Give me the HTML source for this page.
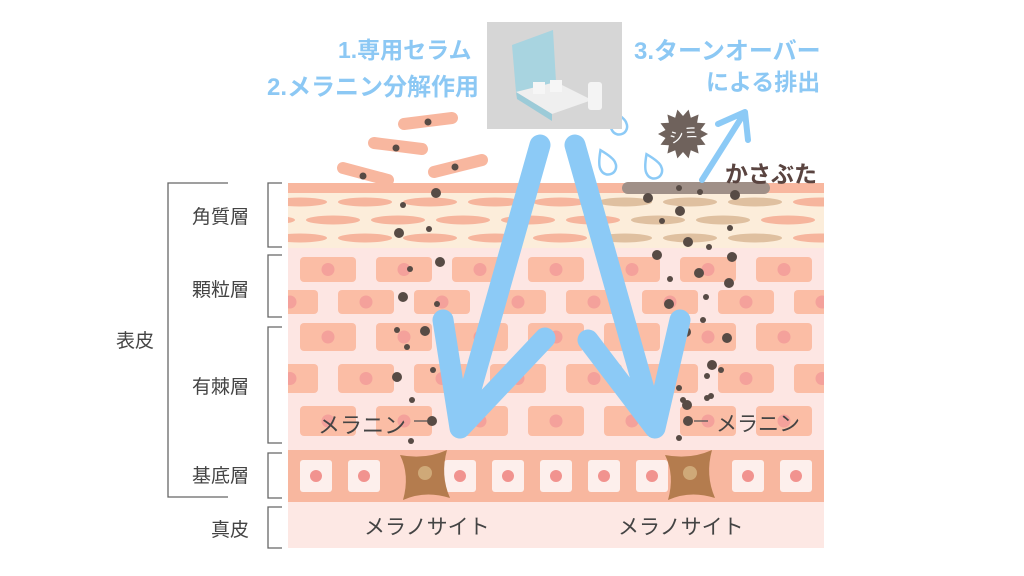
<!DOCTYPE html>
<html><head><meta charset="utf-8"><style>
html,body{margin:0;padding:0;background:#fff;}
body{width:1024px;height:576px;overflow:hidden;position:relative;font-family:"Liberation Sans","Noto Sans CJK JP",sans-serif;}
.t{position:absolute;white-space:nowrap;}
</style></head><body>
<svg id="s" width="1024" height="576" style="position:absolute;left:0;top:0">
<defs><clipPath id="c"><rect x="288" y="183" width="536" height="365"/></clipPath></defs>
<g id="skin" clip-path="url(#c)">
<rect x="288" y="183" width="536" height="365" fill="#fde6e3"/>
<rect x="288" y="192" width="536" height="56" fill="#fcedda"/>
<rect x="288" y="183" width="536" height="10" fill="#f8b79f"/>
<rect x="288" y="450" width="536" height="52" fill="#f8b79f"/>
<rect x="288" y="502" width="536" height="46" fill="#fde8e4"/>
</g>
<g id="dyn"></g>
<g fill="none" stroke="#666" stroke-width="1.3">
<path d="M282 183H268V247H282"/><path d="M282 255H268V317H282"/><path d="M282 327H268V443H282"/><path d="M282 453H268V498H282"/><path d="M282 507H268V548H282"/>
<path d="M228 183H168V497H228"/>
</g>
<g stroke="#555" stroke-width="1.3"><line x1="414" y1="421" x2="428" y2="421"/><line x1="694" y1="421" x2="708" y2="421"/></g>
</svg>
<div class="t" style="left:192px;top:202px;font-size:19px;color:#444">角質層</div>
<div class="t" style="left:192px;top:275px;font-size:19px;color:#444">顆粒層</div>
<div class="t" style="left:192px;top:372px;font-size:19px;color:#444">有棘層</div>
<div class="t" style="left:192px;top:461px;font-size:19px;color:#444">基底層</div>
<div class="t" style="left:211px;top:515px;font-size:19px;color:#444">真皮</div>
<div class="t" style="left:116px;top:326px;font-size:19px;color:#444">表皮</div>
<div class="t" style="left:318px;top:408px;font-size:22px;color:#444">メラニン</div>
<div class="t" style="left:716px;top:408px;font-size:21px;color:#444">メラニン</div>
<div class="t" style="left:364px;top:511px;font-size:21px;color:#444">メラノサイト</div>
<div class="t" style="left:618px;top:511px;font-size:21px;color:#444">メラノサイト</div>
<div class="t" style="left:338px;top:31px;font-size:23px;font-weight:bold;color:#8cc8f4">1.専用セラム</div>
<div class="t" style="left:267px;top:67px;font-size:24px;font-weight:bold;color:#8cc8f4">2.メラニン分解作用</div>
<div class="t" style="left:634px;top:31px;font-size:24px;font-weight:bold;color:#8cc8f4">3.ターンオーバー</div>
<div class="t" style="left:706px;top:63px;font-size:23px;font-weight:bold;color:#8cc8f4">による排出</div>
<div class="t" style="left:725px;top:155px;font-size:23px;font-weight:bold;color:#5a4440">かさぶた</div>
<div class="t" style="left:669px;top:124px;font-size:15px;color:#fff;transform:rotate(-15deg)">シミ</div>
<script>
const NS="http://www.w3.org/2000/svg",g=document.getElementById('dyn');
function el(t,a,p){const e=document.createElementNS(NS,t);for(const k in a)e.setAttribute(k,a[k]);(p||g).appendChild(e);return e;}
const sk=document.getElementById('skin');
[[202,300],[220,268],[238,300]].forEach(([y,x0])=>{for(let x=x0;x<860;x+=65){const br=x>600&&x<780&&!(y==238&&x>760);el('ellipse',{cx:x,cy:y,rx:27,ry:4.5,fill:br&&x>610?'#dfc0a0':'#f6b59d'},sk);}});
const rows=[[257,25,300],[290,24,338],[323,28,300],[364,29,338],[406,30,300]];
rows.forEach(([y,h,x0])=>{for(let x=x0-76;x<860;x+=76){el('rect',{x:x,y:y,width:56,height:h,rx:4,fill:'#fbbda5'},sk);el('circle',{cx:x+28,cy:y+h/2,r:6.5,fill:'#f4a19b'},sk);}});
for(let x=300;x<830;x+=48){if(Math.abs(x+15-425)<30||Math.abs(x+15-690)<30)continue;el('rect',{x:x,y:460,width:32,height:32,rx:3,fill:'#fdefec'},sk);el('circle',{cx:x+16,cy:476,r:6,fill:'#f1938f'},sk);}
[[425,475],[690,475]].forEach(([cx,cy])=>{el('path',{d:`M${cx-25} ${cy-20}Q${cx} ${cy-15} ${cx+22} ${cy-25}Q${cx+15} ${cy} ${cx+25} ${cy+23}Q${cx} ${cy+15} ${cx-22} ${cy+25}Q${cx-15} ${cy} ${cx-25} ${cy-20}Z`,fill:'#b47c4e'});el('circle',{cx:cx,cy:cy-2,r:7,fill:'#cfa978'});});
el('rect',{x:622,y:182,width:148,height:12,rx:6,fill:'#a09088'});
[[404,124,452,118],[374,143,422,149],[434,172,482,160],[343,168,388,180]].forEach(([a,b,c,d])=>{el('line',{x1:a,y1:b,x2:c,y2:d,stroke:'#f8b79f','stroke-width':12,'stroke-linecap':'round'});});
const dots=[[428,122,3.5],[396,148,3.5],[455,167,3.5],[363,176,3.5],[436,193,5],[403,205,3],[399,233,5],[429,229,3],[440,262,5],[410,269,3],[403,297,5],[437,304,3],[397,330,3],[425,331,5],[407,347,3],[397,377,5],[433,370,3],[412,400,3],[432,421,5],[411,441,3],
[648,198,5],[679,188,3],[700,192,3],[735,195,5],[680,211,5],[662,221,3],[688,242,5],[730,228,3],[709,247,3],[657,255,5],[732,257,5],[670,279,3],[699,273,5],[729,283,5],[706,297,3],[669,304,5],[703,320,3],[686,332,5],[727,338,5],[676,356,3],[712,365,5],[721,370,3],[679,388,3],[707,376,3],[711,396,3],[683,400,3],[687,405,5],[707,398,3],[688,421,5],[679,438,3]];
dots.forEach(([x,y,r])=>el('circle',{cx:x,cy:y,r:r,fill:'#574b45'}));
const B='#8ccaf6';
el('path',{d:'M540 145L460 428M443 320L460 428L545 338',stroke:B,'stroke-width':21,fill:'none','stroke-linecap':'round','stroke-linejoin':'round'});
el('path',{d:'M575 145L655 428M588 340L655 428L680 320',stroke:B,'stroke-width':21,fill:'none','stroke-linecap':'round','stroke-linejoin':'round'});
el('path',{d:'M702 180L745 112M718 124L745 112L748 140',stroke:B,'stroke-width':6,fill:'none','stroke-linecap':'round','stroke-linejoin':'round'});
[[617,122,-25],[606,162,-25],[652,166,-25]].forEach(([x,y,r])=>{el('path',{d:`M${x} ${y-13}Q${x-9} ${y} ${x-8} ${y+5}A8 8 0 0 0 ${x+8} ${y+5}Q${x+9} ${y} ${x} ${y-13}Z`,fill:'#fff',stroke:B,'stroke-width':2.5,transform:`rotate(${r} ${x} ${y})`});});
let p='';for(let i=0;i<28;i++){const a=i*Math.PI/14,r=i%2?18:25;p+=(i?'L':'M')+(683+r*Math.cos(a)).toFixed(1)+' '+(134+r*Math.sin(a)).toFixed(1);}
el('path',{d:p+'Z',fill:'#6f625c'});
el('rect',{x:487,y:22,width:135,height:107,fill:'#d6d6d6'});
el('path',{d:'M512 45L553 30L556 82L516 92Z',fill:'#a8d4e0'});
el('path',{d:'M516 92L556 82L592 100L552 114Z',fill:'#efefef'});
el('path',{d:'M516 92L552 114L552 121L517 99Z',fill:'#9ccbd8'});
el('rect',{x:533,y:82,width:12,height:12,fill:'#f6f6f6'});el('rect',{x:550,y:80,width:12,height:12,fill:'#f6f6f6'});
el('rect',{x:588,y:82,width:14,height:28,rx:3,fill:'#f4f4f4'});
</script>
</body></html>
